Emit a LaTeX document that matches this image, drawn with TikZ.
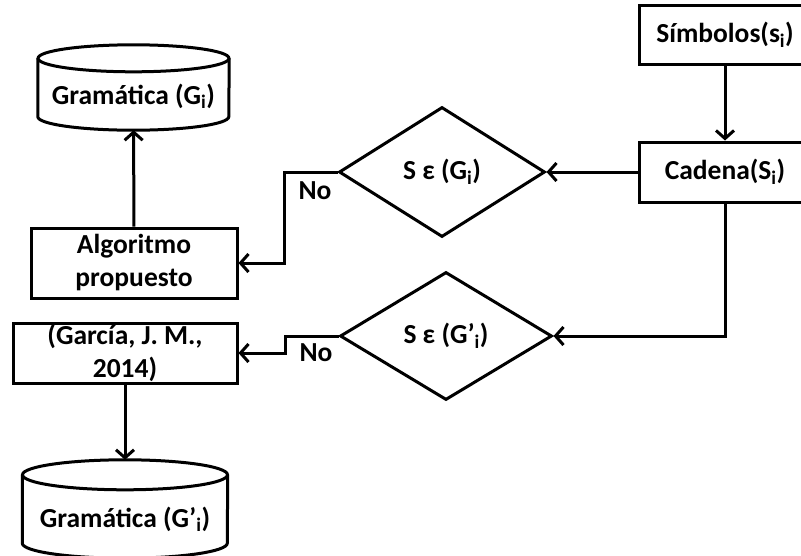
\documentclass[tikz,border=0pt]{standalone}
\usepackage{fontspec}
\setmainfont{Carlito}
\usetikzlibrary{shapes.geometric,arrows.meta}

\begin{document}
\begin{tikzpicture}[x=1pt, y=-1pt, font=\fontsize{27.5}{33}\selectfont\bfseries,
    box/.style={draw, line width=3pt, align=center, inner sep=0pt},
    decide/.style={draw, diamond, line width=3pt, inner sep=0pt},
    store/.style={inner sep=0pt, text depth=0pt},
    link/.style={line width=3pt, -{Straight Barb[length=8pt, width=18pt]}}]
  \useasboundingbox (0,0) rectangle (801,555);
  % right column
  \node[box, minimum width=172pt, minimum height=59pt] (simb) at (725,34.5) {Símbolos(s\textsubscript{i})};
  \node[box, minimum width=172pt, minimum height=60pt] (cad) at (725,172) {Cadena(S\textsubscript{i})};
  % decisions
  \node[decide, minimum width=206pt, minimum height=130pt] (d1) at (442,172) {S ε (G\textsubscript{i})};
  \node[decide, minimum width=212pt, minimum height=128pt] (d2) at (446,336) {S ε (G’\textsubscript{i})};
  % left column
  \node[box, minimum width=206pt, minimum height=70pt] (alg) at (134,263) {Algoritmo\\ propuesto};
  \node[box, minimum width=224pt, minimum height=60pt] (gar) at (125,353) {(García, J. M.,\\ 2014)};
  \node[store, minimum width=191pt, minimum height=85pt, text height=33pt] (gram1) at (133.5,87.5) {Gramática (G\textsubscript{i})};
  \node[store, minimum width=205pt, minimum height=98pt, text height=36pt] (gram2) at (125,509) {Gramática (G’\textsubscript{i})};
  % cylinder outlines round the two grammar nodes
  \foreach \n/\rx/\ry in {gram1/95.5/13.5, gram2/102.5/15} {
    \draw[line width=3pt] ([yshift=-\ry pt]\n.north) ellipse [x radius=\rx pt, y radius=\ry pt];
    \draw[line width=3pt] ([yshift=-\ry pt]\n.north west) -- ([yshift=\ry pt]\n.south west)
      arc [start angle=180, end angle=360, x radius=\rx pt, y radius=\ry pt] -- ([yshift=-\ry pt]\n.north east);
  }

  \draw[link] (simb) -- (cad);
  \draw[link] (cad) -- (d1);
  \draw[link] (cad.south) |- (d2.east);
  \draw[link] (d1.west) -- node[below=5pt, xshift=4pt] {No} ++(-53,0) |- (alg.east);
  \draw[link] (d2.west) -- node[below=3pt, xshift=4pt] {No} ++(-53,0) |- (gar.east);
  \draw[link] (alg) -- (gram1);
  \draw[link] (gar) -- (gram2);
\end{tikzpicture}
\end{document}
